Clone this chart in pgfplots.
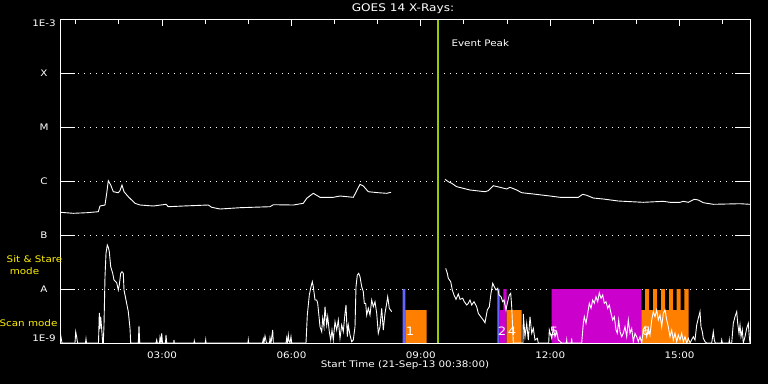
\documentclass[border=0pt]{standalone}
\usepackage{fontspec}
\setmainfont{DejaVu Sans}[FakeStretch=1.15]
\usepackage{pgfplots}
\pgfplotsset{compat=1.18}
\definecolor{cOrange}{RGB}{255,128,0}
\definecolor{cMag}{RGB}{204,0,204}
\definecolor{cBlue}{RGB}{100,100,255}
\definecolor{cGreen}{RGB}{153,204,0}
\begin{document}
\begin{tikzpicture}[font=\fontsize{9}{10.8}\selectfont]
\fill[black] (0,0) rectangle (768pt,384pt);
\useasboundingbox (0,0) rectangle (768pt,384pt);
% Data below in its pixel frame (x: px from left, y: px from top)
% and mapped to hours (x) and decades above 1E-9 W/m^2 (y) by the filters.
\begin{axis}[
  at={(60pt,41pt)}, anchor=south west,
  scale only axis, width=690pt, height=324pt,
  xmin=0.6333, xmax=16.6333, ymin=0, ymax=6,
  x filter/.expression={0.6333+(x-60)/43.125},
  y filter/.expression={(343-y)/54},
  axis line style={white, line width=1pt},
  xtick=\empty,
  ytick={1,2,3,4,5},
  yticklabels={A,B,C,M,X},
  yticklabel style={anchor=center, xshift=-16pt, text=white},
  tick align=inside, major tick length=15pt,
  ytick style={white, line width=1pt},
  ymajorgrids, grid style={white, line width=1pt, dash pattern=on 1pt off 5pt},
]
% observation bars
\addplot[fill=cBlue, draw=none] coordinates {(402.7,343)(402.7,289)(405.3,289)(405.3,343)} \closedcycle;
\addplot[fill=cOrange, draw=none] coordinates {(405.3,343)(405.3,310)(426.7,310)(426.7,343)} \closedcycle;
\addplot[fill=cBlue, draw=none] coordinates {(497.3,343)(497.3,289)(499.5,289)(499.5,343)} \closedcycle;
\addplot[fill=cMag, draw=none] coordinates {(499.5,343)(499.5,310)(503.3,310)(503.3,289)(506.7,289)(506.7,343)} \closedcycle;
\addplot[fill=cOrange, draw=none] coordinates {(506.7,343)(506.7,310)(521.7,310)(521.7,343)} \closedcycle;
\addplot[fill=cMag, draw=none] coordinates {(551.7,343)(551.7,289)(641.3,289)(641.3,343)} \closedcycle;
\addplot[fill=cOrange, draw=none] coordinates {(641.3,343)(641.3,310)(645,310)(645,289)(649,289)(649,310)(653,310)(653,289)(657,289)(657,310)(661,310)(661,289)(665,289)(665,310)(669,310)(669,289)(673,289)(673,310)(676.7,310)(676.7,289)(680.7,289)(680.7,310)(684.3,310)(684.3,289)(688.7,289)(688.7,343)} \closedcycle;
% GOES flux, before and after the gap
\addplot[white, line width=0.9pt] coordinates {
(60.7,212.3)(73.3,213.3)(86.7,212.7)(98.3,211.7)(100,206)(105,205)(106.7,193.3)(108.3,180.7)(110.7,185)(113.3,191.7)(118.3,192.7)(120,190.7)(122,185)(124,191.7)(128.3,196.7)(135,203.3)(140,205)(153.3,206)(166,204.3)(168.3,206.7)(183.3,206)(208.3,205)(211.7,207.3)(220,209)(240,207.7)(270,206.7)(273.3,204.7)(293.3,205)(303.3,203.3)(306.7,198.3)(313.3,193.3)(320,197.3)(333.3,197.3)(340,196)(353.3,197.3)(360,184.3)(363.3,186)(368.3,191.7)(378.3,192.7)(386.7,193.3)(391,192.3)};
\addplot[white, line width=0.9pt] coordinates {
(445,179.3)(448.3,181.7)(451.7,183.3)(456.7,186.7)(463.3,188.3)(470,190)(485,191.7)(488.3,190.7)(493.3,185.7)(500,187.3)(506.7,189)(510,187.3)(516.7,190)(521.7,192.7)(533.3,194)(550,196)(560,197.3)(578.3,197.3)(582.7,194.3)(586.7,195.3)(593.3,198)(603.3,199)(618.3,201)(643.3,202.3)(663.3,201.3)(670,202.3)(680,202.3)(683.3,201.3)(688.3,202.3)(694.3,199.3)(698.3,200)(703.3,202.7)(713.3,204.3)(740,203.7)(750,204.3)};
% lower trace
\addplot[white, line width=0.9pt] coordinates {
(60,343)(61,337)(62,343)(75,343)(75.7,332)(76.7,337)(77.5,343)(85.5,343)(86,339)(86.5,343)(98.5,343)(99.3,313)(100,329)(100.7,316.7)(101.7,329)(102.7,343)(103.3,343)(104,325)(105,276.7)(106,253.3)(107.3,245)(108.3,247.3)(109.3,251.7)(110.7,266.7)(112.7,273.3)(114,280)(116.7,282.7)(118.3,290)(119.3,285)(120.7,273.3)(122,271.7)(123.3,273.3)(124,290)(126,300)(128.3,311.7)(130,328.3)(130.7,343)(138.3,343)(139,326)(139.7,343)(156,343)(156.7,340)(157.3,343)(159.5,343)(160,337.3)(161,343)(161.7,333.3)(162.5,343)(165.5,343)(166,335)(166.7,343)(173.7,343)(174,340)(174.3,343)(194,343)(194.3,341)(194.7,343)(205.3,343)(205.7,340)(206,343)
(248,343)(248.3,340)(248.7,343)(262.5,343)(263.3,339)(264,343)(265,336)(266.5,343)(269.5,343)(270,338)(271,343)(272.7,330)(273.3,343)(286,343)(286.7,338)(287.5,343)(288.3,335)(289,341)(290,343)(291,336.7)(291.7,343)
(306,343)(307.3,315)(309.3,295)(311,286.7)(312.3,281.7)(313.3,286.7)(315,300)(316.7,300)(317.7,303.3)(318.7,313.3)(320,326.7)(321.7,331.7)(322.7,318.3)(324,326.7)(325,306.7)(326.7,325)(327.7,316.7)(329.3,331.7)(330.7,340)(332,330)(333.3,340)(335,321.7)(336.7,330)(338.3,320)(340,338.3)(341.7,325)(343.3,331.7)(345,313.3)(346,305)(347.3,336.7)(348.3,325)(350,335)(351.7,341.7)(353.3,340)(355,326.7)(356,286.7)(357.3,275)(358.7,273.3)(360,276.7)(361.7,286.7)(363.3,291.7)(364.3,303.3)(365.7,303.3)(366.7,315)(368.3,308.3)(370,315)(371.7,300)(373.3,306.7)(375,301.7)(376.7,313.3)(378.3,333.3)(380,326.7)(381.7,308.3)(383.3,330)(385,313.3)(386.7,303.3)(387.7,296.7)(389.3,308.3)(391.7,311.7)};
\addplot[white, line width=0.9pt] coordinates {
(445.7,268.3)(447.3,273.3)(448.3,278.3)(450.7,281.7)(452.3,290)(454,295)(456,299.3)(458.3,294)(460,299.3)(462.7,298.3)(464.3,301.7)(466.7,305)(468.3,303.3)(470,300)(471.7,305)(474,301.7)(476.7,306.7)(478.3,313.3)(480.7,316.7)(483.3,320)(485,322.7)(487.3,310)(489.3,306.7)(491,293.3)(492.7,283.3)(494.3,286.7)(496,290)(497.7,288.3)(499,295)(501,296.7)(502.7,301.7)(504,300)(506,310)(507.3,303.3)(509.3,295)(510.7,293.3)(511.7,306.7)(513.3,343)(523,343)(523.3,314)(525,336.7)(526.7,323.3)(528.3,340)(530,316.7)(531.7,333.3)(533.3,328.3)(535,340)(537.3,338.3)(538.3,343)(548.7,343)(549.3,330)(551.7,338.3)(553.3,328.3)(555,336.7)(556.7,331.7)(558.3,340)(561.7,343)(566.3,343)(566.7,340)(567,343)(571.3,343)(571.7,338.3)(572,343)(581.7,343)(583.3,323.3)(584.3,316.7)(586,323.3)(587.7,313.3)(589.3,303.3)(591,308.3)(592.7,300)(594.3,303.3)(596,296.7)(597.7,301.7)(599.3,292.7)(601,298.3)(602.7,295)(604.3,303.3)(606,301.7)(607.7,308.3)(609.3,305)(611,313.3)(612.7,320)(614.3,316.7)(616,330)(617.3,333.3)(618.7,320)(620,331.7)(621.7,336.7)(623.3,333.3)(625,326.7)(626.7,336.7)(628.3,320)(630,333.3)(631.7,328.3)(633.3,341.7)(635,333.3)(636.7,336.7)(638.3,341.7)(640,336.7)(641.7,343)(643.3,330)(645,326.7)(646.7,336.7)(648.3,328.3)(650,335)(651.7,320)(653.3,311.7)(655,316.7)(656.7,310)(658.3,320)(660,315)(661.7,326.7)(663.3,313.3)(665,310)(666.7,320)(668.3,326.7)(670,336.7)(671.7,330)(673.3,340)(675,333.3)(676.7,341.7)(678.3,335)(680,340)(681.7,333.3)(683.3,341.7)(685,336.7)(686.7,343)(688.3,338.3)(690,343)(693.3,336.7)(695,340)(696.7,325)(698.3,318.3)(700,311.7)(701,326.7)(702.3,331.7)(703.3,338.3)(705,341.7)(706.7,343)(711.7,343)(713.3,331.7)(714.3,340)(715.3,343)(721.3,343)(721.7,340)(722.3,343)(729,343)(729.3,340)(729.7,343)(731.7,343)(733.3,323.3)(735,316.7)(736.7,311.7)(737.7,323.3)(739,333.3)(740,325)(741,336.7)(742.3,330)(743.3,343)(745,336.7)(746.7,328.3)(748.3,323.3)(749.3,336.7)(750,343)};
% event peak marker
\addplot[cGreen, line width=2pt] coordinates {(438,19)(438,343)};
\node[anchor=west, text=white] at (axis cs:9.630,5.556) {Event Peak};
\begin{scope}[every node/.style={text=white, font=\fontsize{11.5}{12}\selectfont}]
\node at (axis cs:8.749,0.222) {1};
\node at (axis cs:10.883,0.222) {2};
\node at (axis cs:11.115,0.222) {4};
\node at (axis cs:12.088,0.222) {5};
\node at (axis cs:14.222,0.222) {6};
\end{scope}
\end{axis}
\begin{axis}[
  at={(60pt,41pt)}, anchor=south west,
  scale only axis, width=690pt, height=324pt,
  xmin=0.6333, xmax=16.6333, ymin=0, ymax=6,
  axis line style={white, line width=1pt},
  ytick=\empty,
  xtick={3,6,9,12,15},
  xticklabels={03:00,06:00,09:00,12:00,15:00},
  minor xtick={1,2,4,5,7,8,10,11,13,14,16},
  xtick pos=right, xticklabel pos=left,
  tick align=inside, major tick length=6.7pt, minor tick length=4.7pt,
  tick style={white, line width=1pt},
  xticklabel style={anchor=center, yshift=-12pt, text=white},
  xlabel={Start Time (21-Sep-13 00:38:00)},
  xlabel style={at={(axis description cs:0.5,0)}, anchor=center, yshift=-22pt, text=white},
]
\end{axis}
\node[text=white, font=\fontsize{10.5}{12}\selectfont] at (403pt,375pt) {GOES 14 X-Rays:};
\node[text=white] at (44pt,361pt) {1E-3};
\node[text=white] at (44pt,46pt) {1E-9};
\node[text=yellow] at (34.5pt,125pt) {Sit \& Stare};
\node[text=yellow] at (24.5pt,113pt) {mode};
\node[text=yellow] at (28.5pt,60.5pt) {Scan mode};
\end{tikzpicture}
\end{document}
